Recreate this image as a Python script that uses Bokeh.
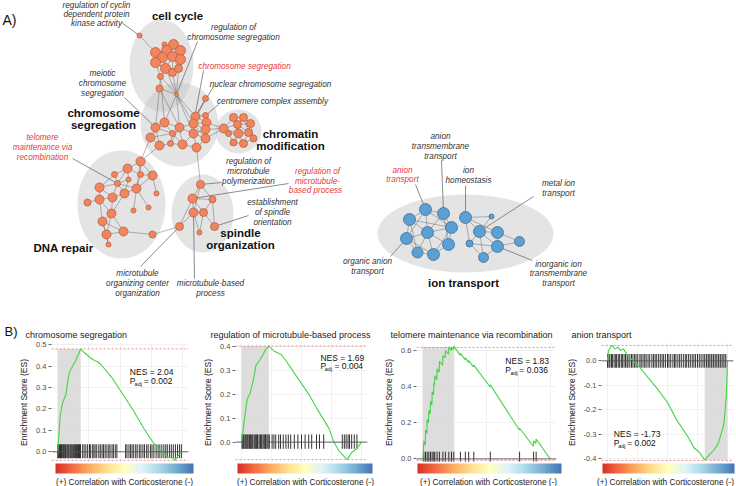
from bokeh.plotting import figure
from bokeh.layouts import column, row
from bokeh.models import (Range1d, Span, Label, ColorBar, LinearColorMapper,
                          FixedTicker, PrintfTickFormatter)
from bokeh.core.properties import value
from bokeh.embed import file_html
from bokeh.resources import INLINE

FONT = "Liberation Sans"

# ======================= Panel A : enrichment map =======================
node_x = [139, 164, 173, 155, 166, 180, 162, 172, 155, 180, 165, 172, 178, 160, 159, 176, 205,
          195, 205, 164, 155, 179, 193, 206, 205, 193, 150, 172, 159, 170, 182, 196, 205,
          223, 233, 243, 237, 250, 228, 238, 248, 233, 243, 253,
          140, 127, 152, 114, 140, 128, 117, 99, 136, 124, 112, 99, 156, 87, 111, 133, 148, 102, 123, 106, 152, 108,
          200, 192, 212, 193, 203, 179, 214, 199,
          425, 443, 409, 451, 427, 406, 448, 417, 433, 465, 491, 479, 497, 469, 497, 519, 483]
node_y = [35, 44, 44, 52, 50, 50, 57, 56, 62, 59, 68, 72, 68, 76, 88, 94, 98,
          116, 115, 122, 127, 127, 123, 122, 129, 133, 137, 133, 145, 143, 144, 147, 138,
          128, 117, 117, 124, 123, 133, 133, 132, 142, 143, 138,
          161, 168, 175, 174, 174, 179, 183, 187, 188, 193, 197, 199, 193, 202, 213, 210, 207, 221, 231, 234, 234, 244,
          184, 198, 199, 212, 212, 226, 226, 232,
          209, 213, 219, 227, 232, 238, 244, 252, 254, 217, 216, 231, 232, 243, 246, 241, 257]
node_r = [2.5, 2.5, 5, 5, 5, 5, 5, 5, 5, 5, 5, 4, 4, 3, 3.5, 2, 3,
          4.5, 3, 4.5, 4.5, 4.5, 4.5, 4.5, 4.5, 4.5, 4.5, 3, 4.5, 3, 4.5, 4.5, 4.5,
          4.5, 4, 4, 4, 4, 3, 4.5, 4, 3.5, 4, 3.5,
          4.5, 4.5, 4.5, 3, 3, 2.5, 3, 4.5, 4.5, 4.5, 4.5, 4.5, 2.5, 3.5, 4.5, 2.5, 2.5, 4.5, 4.5, 4.5, 3.5, 2.5,
          4, 4.5, 3.5, 4.5, 4, 4, 4, 2.5,
          6, 6, 6, 6, 6, 6, 6, 5.5, 6, 6, 2.5, 6, 6, 3.5, 6, 5, 5]
node_kind = ["up"] * 74 + ["down"] * 17

edges = [(0, 3), (1, 2), (1, 4), (2, 4), (2, 5), (2, 7), (3, 4), (3, 6), (3, 8), (4, 6), (4, 7), (5, 7), (5, 9),
         (6, 7), (6, 8), (6, 10), (7, 9), (7, 10), (7, 11), (8, 10), (8, 13), (9, 12), (9, 11), (10, 11), (10, 12),
         (11, 12), (10, 13), (3, 7), (4, 9), (6, 11), (2, 6), (8, 11), (7, 12), (13, 14), (11, 15), (10, 15),
         (13, 15), (14, 15), (12, 15),
         (14, 20), (15, 21), (15, 22), (15, 25), (14, 21), (15, 17), (16, 17), (16, 22), (15, 19), (13, 19),
         (17, 18), (17, 22), (17, 23), (18, 23), (19, 20), (19, 21), (20, 26), (19, 27), (20, 27), (21, 22),
         (21, 25), (21, 27), (21, 30), (22, 23), (22, 24), (22, 25), (23, 24), (24, 25), (24, 32), (25, 32),
         (25, 31), (25, 30), (26, 28), (26, 27), (27, 29), (28, 29), (29, 30), (30, 31), (31, 32), (20, 28),
         (19, 26), (21, 29), (22, 32), (23, 32), (17, 25), (27, 30),
         (24, 33), (23, 33), (32, 33),
         (33, 34), (33, 36), (33, 38), (33, 39), (34, 35), (34, 36), (35, 36), (35, 37), (36, 37), (36, 39),
         (36, 40), (37, 40), (37, 43), (38, 39), (38, 41), (39, 40), (39, 41), (39, 42), (40, 42), (40, 43),
         (41, 42), (42, 43), (34, 39), (35, 40),
         (26, 44), (28, 44), (31, 66),
         (44, 45), (44, 46), (44, 48), (44, 52), (45, 47), (45, 49), (45, 50), (45, 48), (46, 48), (46, 52),
         (46, 56), (47, 50), (47, 51), (48, 52), (49, 50), (49, 53), (50, 51), (50, 52), (50, 53), (50, 54),
         (51, 54), (51, 55), (52, 53), (52, 59), (52, 60), (53, 54), (54, 55), (54, 58), (55, 57), (55, 58),
         (55, 61), (58, 61), (58, 62), (61, 62), (61, 63), (62, 63), (62, 64), (63, 65), (61, 65), (58, 63),
         (53, 58),
         (64, 71),
         (66, 67), (66, 68), (66, 69), (67, 68), (67, 69), (67, 70), (68, 70), (69, 70), (69, 71), (70, 72),
         (69, 73), (70, 73), (68, 72), (67, 71),
         (74, 75), (74, 76), (74, 77), (74, 78), (75, 77), (75, 78), (76, 78), (76, 79), (77, 78), (77, 80),
         (78, 79), (78, 80), (78, 81), (78, 82), (79, 81), (80, 82), (81, 82), (76, 77), (75, 80), (74, 79),
         (79, 82), (76, 81), (77, 82),
         (83, 84), (83, 85), (83, 87), (84, 85), (85, 86), (85, 87), (85, 88), (86, 88), (86, 89), (87, 88),
         (87, 90), (88, 90), (88, 89), (85, 90), (83, 86)]

cluster_x = [161, 179, 238, 121, 202, 465]
cluster_y = [65, 124, 131, 204, 213, 233]
cluster_w = [64, 78, 46, 88, 62, 176]
cluster_h = [92, 84, 44, 108, 78, 78]

cluster_names = ["cell cycle", "chromosome", "segregation", "chromatin", "modification",
                 "DNA repair", "spindle", "organization", "ion transport"]
cluster_name_x = [177, 103, 103, 290, 290, 63, 240, 240, 463]
cluster_name_y = [15, 112, 124, 133, 145, 247, 232, 244, 282]

term_text = ["regulation of cyclin", "dependent protein", "kinase activity",
             "regulation of", "chromosome segregation",
             "chromosome segregation",
             "meiotic", "chromosome", "segregation",
             "nuclear chromosome segregation",
             "centromere complex assembly",
             "telomere", "maintenance via", "recombination",
             "regulation of", "microtubule", "polymerization",
             "regulation of", "microtubule-", "based process",
             "establishment", "of spindle", "orientation",
             "microtubule", "organizing center", "organization",
             "microtubule-based", "process",
             "anion", "transport",
             "anion", "transmembrane", "transport",
             "ion", "homeostasis",
             "metal ion", "transport",
             "organic anion", "transport",
             "inorganic ion", "transmembrane", "transport"]
term_x = [96, 96, 96, 233, 233, 244, 102, 102, 102, 270, 272, 42, 42, 42, 248, 248, 248,
          317, 317, 315, 272, 272, 272, 137, 137, 137, 210, 210, 402, 402, 440, 440, 440,
          468, 468, 558, 558, 367, 367, 558, 558, 558]
term_y = [5, 14, 23, 27, 37, 66, 73, 83, 93, 84, 101, 137, 147, 157, 161, 171, 181,
          171, 181, 190, 202, 212, 222, 273, 283, 293, 283, 293, 170, 179, 136, 146, 156,
          170, 180, 183, 193, 261, 271, 264, 273, 283]
term_red = [0, 0, 0, 0, 0, 1, 0, 0, 0, 0, 0, 1, 1, 1, 0, 0, 0, 1, 1, 1, 0, 0, 0, 0, 0, 0, 0, 0,
            1, 1, 0, 0, 0, 0, 0, 0, 0, 0, 0, 0, 0, 0]

leader_x = [121, 197, 203, 124, 213, 218, 72, 221, 288, 248, 140, 194, 415, 441, 465, 533, 390, 532]
leader_y = [22, 41, 70, 97, 86, 104, 158, 182, 183, 215, 266, 278, 184, 160, 185, 196, 256, 260]
leader_node = [0, 15, 22, 20, 17, 18, 50, 66, 67, 72, 71, 69, 74, 75, 83, 85, 79, 88]

# ======================= Panel B : GSEA plots =======================
titles = ["chromosome segregation", "regulation of microtubule-based process",
          "telomere maintenance via recombination", "anion transport"]
title_x = [25, 210, 390, 571]
title_y = [334, 334, 334, 334]
xlab_text = ["(+) Correlation with Corticosterone (-)"] * 4
xlab_x = [124, 305, 488, 665]
nes_vals = ["2.04", "1.69", "1.83", "-1.73"]
padj_vals = ["0.002", "0.004", "0.036", "0.002"]

es_x1 = [0, .02, .04, .067, .08, .093, .12, .147, .17, .185, .2, .23, .27, .3, .32, .35, .43, .51, .61, .69,
         .77, .83, .88, .93, .94, .97, 1.0]
es_y1 = [0, .17, .23, .27, .33, .37, .40, .43, .46, .48, .47, .455, .435, .425, .42, .405, .35, .28, .19,
         .11, .04, 0, -.023, -.03, -.04, -.016, 0]
hits1 = [0.0, 0.008, 0.015, 0.022, 0.03, 0.036, 0.045, 0.052, 0.06, 0.066, 0.075, 0.083, 0.09, 0.1, 0.108,
         0.116, 0.125, 0.133, 0.142, 0.15, 0.158, 0.167, 0.175, 0.183, 0.2, 0.212, 0.226, 0.24, 0.255, 0.262,
         0.278, 0.29, 0.3, 0.313, 0.33, 0.342, 0.356, 0.368, 0.381, 0.395, 0.41, 0.42, 0.436, 0.447, 0.462,
         0.475, 0.545, 0.556, 0.572, 0.585, 0.597, 0.61, 0.626, 0.638, 0.655, 0.668, 0.684, 0.697, 0.714,
         0.726, 0.744, 0.757, 0.772, 0.79, 0.806, 0.82, 0.836, 0.852, 0.867, 0.88, 0.897, 0.912, 0.928, 0.945,
         0.962, 0.978, 0.993]

es_x2 = [0, .02, .047, .07, .1, .12, .15, .18, .2, .228, .27, .33, .37, .45, .56, .64, .73, .77, .81, .86,
         .88, .92, .96, 1.0]
es_y2 = [0, .077, .18, .2, .26, .32, .34, .365, .385, .40, .38, .365, .34, .28, .20, .13, .056, 0, -.035,
         -.063, -.073, -.042, -.028, 0]
hits2 = [0.005, 0.013, 0.02, 0.03, 0.038, 0.047, 0.055, 0.066, 0.074, 0.085, 0.094, 0.106, 0.115, 0.126,
         0.134, 0.147, 0.158, 0.168, 0.18, 0.19, 0.2, 0.212, 0.222, 0.232, 0.255, 0.27, 0.285, 0.31, 0.325,
         0.348, 0.37, 0.39, 0.41, 0.44, 0.47, 0.5, 0.53, 0.56, 0.585, 0.625, 0.65, 0.685, 0.84, 0.857, 0.872,
         0.888, 0.9, 0.918, 0.94, 0.962]

es_x3 = [0, .008, .02, .021, .032, .034, .045, .047, .058, .06, .071, .073, .084, .086, .092, .094, .11, .112,
         .128, .13, .155, .157, .175, .177, .202, .204, .223, .225, .241, .243, .293, .295, .332, .334, .358,
         .36, .398, .40, .528, .53, .758, .76, .868, .87, .888, .89, 1.0]
es_y3 = [0, .10, .075, .16, .14, .22, .20, .27, .25, .32, .30, .37, .355, .42, .41, .46, .44, .50, .48, .54,
         .52, .57, .56, .60, .58, .62, .60, .62, .605, .625, .575, .585, .55, .56, .535, .545, .51, .52, .40,
         .41, .16, .17, .07, .10, .085, .11, 0]
hits3 = [0.008, 0.021, 0.034, 0.047, 0.06, 0.073, 0.086, 0.094, 0.112, 0.13, 0.157, 0.177, 0.204, 0.225,
         0.243, 0.295, 0.334, 0.36, 0.4, 0.53, 0.76, 0.87, 0.89]

es_x4 = [0, .008, .036, .064, .09, .106, .134, .16, .20, .26, .33, .41, .50, .58, .67, .72, .76, .79, .81,
         .85, .89, .92, .94, .97, .99, 1.0]
es_y4 = [0, .042, .063, .049, .056, .042, .049, .028, .007, -.021, -.063, -.11, -.17, -.244, -.31, -.355,
         -.37, -.39, -.405, -.383, -.362, -.34, -.31, -.258, -.146, 0]
hits4 = [0.0, 0.012, 0.02, 0.033, 0.041, 0.055, 0.068, 0.076, 0.09, 0.101, 0.115, 0.124, 0.138, 0.15, 0.163,
         0.171, 0.186, 0.2, 0.212, 0.226, 0.238, 0.252, 0.27, 0.281, 0.296, 0.31, 0.322, 0.338, 0.352, 0.37,
         0.384, 0.397, 0.41, 0.426, 0.44, 0.455, 0.468, 0.483, 0.5, 0.512, 0.527, 0.545, 0.558, 0.57, 0.586,
         0.601, 0.615, 0.632, 0.648, 0.66, 0.676, 0.69, 0.706, 0.72, 0.734, 0.75, 0.765, 0.78, 0.796, 0.81,
         0.826, 0.84, 0.853, 0.868, 0.882, 0.897, 0.911, 0.926, 0.94, 0.955, 0.97, 0.985]

lead_left = [0, 0, 0, 0.81]
lead_right = [0.185, 0.228, 0.243, 1.0]
lead_bottom = [-0.03, -0.028, -0.015, -0.405]
lead_top = [0.48, 0.40, 0.62, 0.028]
es_max = [0.48, 0.40, 0.618, 0.063]
es_min = [-0.04, -0.073, -0.008, -0.407]
bar_lo = [-0.03, -0.028, -0.015, -0.028]
bar_hi = [0.035, 0.032, 0.04, 0.028]
y_lo = [-0.05, -0.085, -0.02, -0.415]
y_hi = [0.51, 0.415, 0.645, 0.075]
y_ticks = [[0, .1, .2, .3, .4, .5], [0, .1, .2, .3, .4], [0, .2, .4, .6], [-.4, -.3, -.2, -.1, 0]]
stat_x = [0.579, 0.658, 0.648, 0.053]
stat_nes_y = [0.374, 0.35, 0.54, -0.297]
stat_p_y = [0.33, 0.316, 0.494, -0.335]
stat_adj_dx = [0.038, 0.036, 0.04, 0.036]
stat_eq_dx = [0.112, 0.117, 0.11, 0.111]

# layout (pixels)
fig_w = [195, 180, 187, 174]
border_l = [51, 40, 41, 39]
border_r = [7, 8, 6, 3]
cbar_left = [55, 237, 417, 602]
cbar_len = [138, 135, 144, 132]

anchors = ["#d73027", "#f46d43", "#fdae61", "#fee090", "#ffffbf", "#e0f3f8", "#abd9e9", "#74add1", "#4575b4"]


def blend(cols, n):
    rgb = [tuple(int(c[i:i + 2], 16) for i in (1, 3, 5)) for c in cols]
    out = []
    for k in range(n):
        t = k / (n - 1) * (len(rgb) - 1)
        i = min(int(t), len(rgb) - 2)
        f = t - i
        out.append("#%02x%02x%02x" % tuple(round(rgb[i][j] + (rgb[i + 1][j] - rgb[i][j]) * f) for j in range(3)))
    return out


# ---------------- panel A figure (also carries the panel-B header row) ----------------
pA = figure(width=736, height=341, x_range=Range1d(0, 736), y_range=Range1d(341, 0),
            output_backend="svg", toolbar_location=None, x_axis_location=None,
            y_axis_location=None, min_border=0, outline_line_color=None)
pA.grid.visible = False

pA.ellipse(x=cluster_x, y=cluster_y, width=cluster_w, height=cluster_h,
           fill_color="#c4c4c4", fill_alpha=0.45, line_color=None)
pA.segment(x0=[node_x[a] for a, b in edges], y0=[node_y[a] for a, b in edges],
           x1=[node_x[b] for a, b in edges], y1=[node_y[b] for a, b in edges],
           line_color="#555555", line_alpha=0.6, line_width=0.7)
pA.segment(x0=leader_x, y0=leader_y, x1=[node_x[i] for i in leader_node],
           y1=[node_y[i] for i in leader_node], line_color="#707070", line_width=0.8)
pA.scatter(x=node_x, y=node_y, size=[2 * r for r in node_r],
           fill_color=["#F0855F" if k == "up" else "#5B9FD3" for k in node_kind],
           line_color=["#B8603F" if k == "up" else "#3C6F9A" for k in node_kind], line_width=0.8)
pA.text(x=term_x, y=term_y, text=term_text, text_align="center", text_baseline="middle",
        text_font=value(FONT), text_font_style="italic", text_font_size="8.2px",
        text_color=["#E8383D" if r else "#333333" for r in term_red])
pA.text(x=cluster_name_x, y=cluster_name_y, text=cluster_names, text_align="center",
        text_baseline="middle", text_font=value(FONT), text_font_style="bold",
        text_font_size="11.5px", text_color="#111111")
pA.text(x=[2, 4], y=[19, 331], text=["A)", "B)"], text_align="left", text_baseline="middle",
        text_font=value(FONT), text_font_size=["14px", "13px"], text_color="#111111")
pA.text(x=title_x, y=title_y, text=titles, text_align="left", text_baseline="middle",
        text_font=value(FONT), text_font_size="9px", text_color="#1a1a1a")

ramp = blend(anchors, 256)
series = [(es_x1, es_y1, hits1), (es_x2, es_y2, hits2), (es_x3, es_y3, hits3), (es_x4, es_y4, hits4)]

panels = []
for k in range(4):
    ex, ey, hits = series[k]
    p = figure(width=fig_w[k], height=122, x_range=Range1d(-0.05, 1.05), y_range=Range1d(y_lo[k], y_hi[k]),
               output_backend="svg", toolbar_location=None, x_axis_location=None,
               min_border_left=border_l[k], min_border_right=border_r[k], min_border_top=1,
               min_border_bottom=1, outline_line_color=None)
    p.xgrid.ticker = FixedTicker(ticks=[0, 0.25, 0.5, 0.75, 1.0])
    p.xgrid.grid_line_color = "#ededed"
    p.ygrid.grid_line_color = "#ededed"
    p.ygrid.grid_line_width = 0.8
    p.xgrid.grid_line_width = 0.8
    ax = p.yaxis[0]
    ax.ticker = FixedTicker(ticks=y_ticks[k])
    ax.formatter = PrintfTickFormatter(format="%.1f")
    ax.axis_label = "Enrichment Score (ES)"
    ax.axis_label_text_font = FONT
    ax.axis_label_text_font_size = "8.5px"
    ax.axis_label_text_font_style = "normal"
    ax.axis_label_text_color = "#222222"
    ax.axis_label_standoff = 4
    ax.major_label_text_font = FONT
    ax.major_label_text_font_size = "7.5px"
    ax.major_label_text_color = "#4d4d4d"
    ax.major_label_standoff = 2
    ax.axis_line_color = None
    ax.major_tick_in = 0
    ax.major_tick_out = 3
    ax.major_tick_line_color = "#666666"
    ax.minor_tick_line_color = None

    p.quad(left=[lead_left[k]], right=[lead_right[k]], bottom=[lead_bottom[k]], top=[lead_top[k]],
           fill_color="#d9d9d9", fill_alpha=0.9, line_color=None)
    p.add_layout(Span(location=es_max[k], dimension="width", line_color="#ec6f6f",
                      line_dash="2 2", line_width=0.8))
    p.add_layout(Span(location=es_min[k], dimension="width", line_color="#ec6f6f",
                      line_dash="2 2", line_width=0.8))
    p.segment(x0=hits, y0=[bar_lo[k]] * len(hits), x1=hits, y1=[bar_hi[k]] * len(hits),
              line_color="#111111", line_width=1, line_alpha=0.85)
    p.add_layout(Span(location=0, dimension="width", line_color="#555555", line_width=0.9))
    p.line(ex, ey, line_color="#44d444", line_width=1.1)

    p.add_layout(Label(x=stat_x[k], y=stat_nes_y[k], text="NES = " + nes_vals[k], text_font=FONT,
                       text_font_size="8.5px", text_baseline="middle", text_color="#111111"))
    p.add_layout(Label(x=stat_x[k], y=stat_p_y[k], text="P", text_font=FONT,
                       text_font_size="8.5px", text_baseline="middle", text_color="#111111"))
    p.add_layout(Label(x=stat_x[k] + stat_adj_dx[k], y=stat_p_y[k], y_offset=-3, text="adj", text_font=FONT,
                       text_font_size="5.5px", text_baseline="middle", text_color="#111111"))
    p.add_layout(Label(x=stat_x[k] + stat_eq_dx[k], y=stat_p_y[k], text="= " + padj_vals[k], text_font=FONT,
                       text_font_size="8.5px", text_baseline="middle", text_color="#111111"))
    panels.append(p)

# footer row: colour bars of the ranked list and the rank-axis captions
pF = figure(width=736, height=23, x_range=Range1d(0, 736), y_range=Range1d(0, 23),
            output_backend="svg", toolbar_location=None, x_axis_location=None,
            y_axis_location=None, min_border=0, outline_line_color=None)
pF.grid.visible = False
for k in range(4):
    cb = ColorBar(color_mapper=LinearColorMapper(palette=ramp, low=0, high=1), orientation="horizontal",
                  location=(cbar_left[k], 13), width=cbar_len[k], height=10, padding=0, margin=0,
                  ticker=FixedTicker(ticks=[]), major_label_text_font_size="0px",
                  major_tick_line_color=None, major_tick_in=0, major_tick_out=0, label_standoff=0,
                  title_standoff=0, bar_line_color=None, border_line_color=None,
                  background_fill_color=None)
    pF.add_layout(cb, "center")
pF.text(x=xlab_x, y=[5] * 4, text=xlab_text, text_align="center", text_baseline="middle",
        text_font=value(FONT), text_font_size="8.3px", text_color="#222222")

layout = column(pA, row(*panels), pF)
open("out.html", "w").write(file_html(layout, INLINE, title="GSEA"))
